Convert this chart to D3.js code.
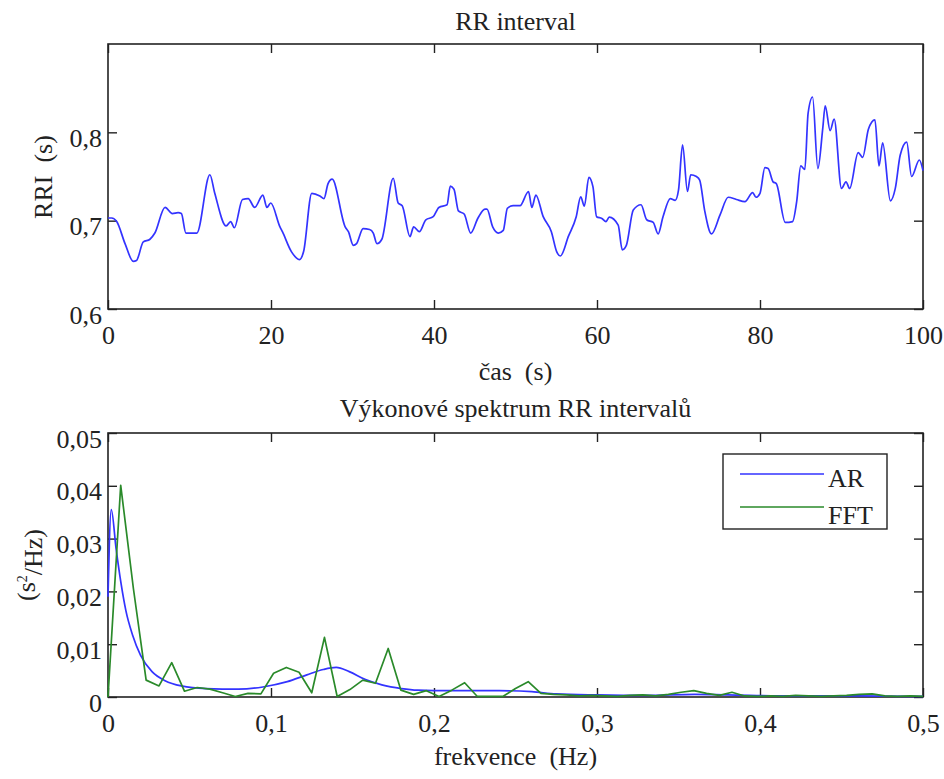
<!DOCTYPE html>
<html><head><meta charset="utf-8">
<script src="https://cdn.jsdelivr.net/npm/d3@7"></script>
<style>
html,body{margin:0;padding:0;background:#fff;}
text{font-family:"Liberation Serif","Times New Roman",serif;fill:#222;white-space:pre;}
</style></head>
<body>
<svg id="c" width="944" height="779"></svg>
<script>
// ---------- data ----------
const rrTime = [0, 0.45, 1.07, 2.09, 3.1, 3.5, 4.33, 5.15, 5.75, 7.0,
  7.9, 8.6, 9.0, 9.56, 10.9, 12.5, 13.1, 14.5, 15.05, 15.5,
  16.5, 17.2, 18.0, 19.0, 19.5, 19.96, 21.1, 21.4, 22.5, 23.5,
  24.0, 25.0, 26.0, 26.5, 27.0, 27.5, 29.1, 29.5, 30.1, 30.5,
  31.3, 32.1, 32.55, 33.0, 33.6, 35.0, 35.6, 36.1, 37.05, 37.5,
  38.2, 39.0, 39.9, 40.6, 41.6, 42.0, 42.45, 43.0, 43.7, 44.5,
  45.4, 46.25, 46.5, 47.2, 47.9, 48.5, 49.0, 49.7, 50.55, 51.6,
  52.0, 52.5, 53.4, 54.4, 55.05, 55.5, 56.5, 57.45, 58.0, 58.45,
  59.0, 59.5, 59.95, 60.6, 61.1, 61.5, 62.6, 63.1, 63.6, 64.45,
  65.4, 66.1, 66.9, 67.5, 68.1, 69.0, 69.6, 70.0, 70.5, 71.1,
  71.5, 72.2, 72.6, 73.2, 74.05, 75.1, 76.1, 77.1, 78.15, 79.1,
  79.5, 80.0, 80.6, 81.0, 81.6, 82.0, 83.1, 84.0, 84.5, 85.0,
  85.5, 85.9, 86.45, 87.1, 87.7, 88.0, 88.6, 89.1, 90.0, 90.55,
  91.0, 92.05, 92.6, 93.3, 94.1, 94.6, 95.05, 96.0, 96.6, 97.2,
  98.0, 98.6, 99.55, 100];
const rrValue = [0.703, 0.703, 0.699, 0.674, 0.654, 0.655, 0.676, 0.679, 0.686, 0.715,
  0.708, 0.709, 0.708, 0.686, 0.686, 0.752, 0.731, 0.694, 0.699, 0.692,
  0.724, 0.725, 0.715, 0.729, 0.715, 0.720, 0.693, 0.6875, 0.665, 0.656,
  0.665, 0.731, 0.728, 0.725, 0.742, 0.747, 0.693, 0.6875, 0.672, 0.674,
  0.691, 0.690, 0.686, 0.674, 0.679, 0.748, 0.720, 0.717, 0.682, 0.693,
  0.6875, 0.701, 0.7045, 0.715, 0.718, 0.739, 0.7355, 0.711, 0.7075, 0.686,
  0.703, 0.713, 0.713, 0.693, 0.686, 0.689, 0.714, 0.717, 0.717, 0.733,
  0.715, 0.729, 0.7045, 0.6875, 0.665, 0.660, 0.6825, 0.7045, 0.727, 0.7165,
  0.749, 0.7385, 0.7045, 0.7025, 0.699, 0.704, 0.695, 0.667, 0.672, 0.712,
  0.718, 0.701, 0.698, 0.685, 0.7045, 0.725, 0.723, 0.7345, 0.7857, 0.733,
  0.752, 0.750, 0.746, 0.712, 0.685, 0.7065, 0.7265, 0.724, 0.7215, 0.7317,
  0.7265, 0.731, 0.760, 0.759, 0.744, 0.742, 0.698, 0.699, 0.7215, 0.762,
  0.758, 0.8215, 0.840, 0.759, 0.8045, 0.830, 0.802, 0.815, 0.7365, 0.744,
  0.7365, 0.777, 0.7717, 0.8035, 0.814, 0.762, 0.788, 0.7225, 0.7365, 0.774,
  0.789, 0.750, 0.7687, 0.7567];

const fftFreq = [0, 0.0078, 0.0156, 0.0234, 0.0313, 0.0391, 0.0469, 0.0547, 0.0625, 0.0703,
  0.0781, 0.0859, 0.0938, 0.1016, 0.1094, 0.1172, 0.125, 0.1328, 0.1406, 0.1484,
  0.1563, 0.1641, 0.1719, 0.1797, 0.1875, 0.1953, 0.2031, 0.2109, 0.2188, 0.2266,
  0.2344, 0.2422, 0.25, 0.2578, 0.2656, 0.2734, 0.2813, 0.2891, 0.2969, 0.3047,
  0.3125, 0.3203, 0.3281, 0.3359, 0.3438, 0.3516, 0.3594, 0.3672, 0.375, 0.3828,
  0.3906, 0.3984, 0.4063, 0.4141, 0.4219, 0.4297, 0.4375, 0.4453, 0.4531, 0.4609,
  0.4688, 0.4766, 0.4844, 0.4922, 0.5];
const fftPower = [0, 0.0401, 0.0205, 0.0032, 0.0021, 0.0065, 0.0011, 0.0018, 0.0015, 0.0008,
  0.0001, 0.0007, 0.0006, 0.0045, 0.0056, 0.0047, 0.0008, 0.0113, 0.0001, 0.0014,
  0.0032, 0.0026, 0.0092, 0.0013, 0.0005, 0.0012, 0.0001, 0.0013, 0.0027, 0.0001,
  0.0001, 0.0001, 0.0016, 0.0029, 0.0007, 0.0005, 0.0004, 0.0002, 0.0003, 0.0002,
  0.0001, 0.0003, 0.0004, 0.0002, 0.0005, 0.0009, 0.0012, 0.0007, 0.0003, 0.0009,
  0.0002, 0.0001, 0.0002, 0.0001, 0.0003, 0.0002, 0.0001, 0.0002, 0.0003, 0.0005,
  0.0006, 0.0002, 0.0001, 0.0002, 0.0001];

const arFreq = [0, 0.002, 0.005, 0.008, 0.011, 0.015, 0.02, 0.027, 0.035, 0.045,
  0.06, 0.08, 0.095, 0.11, 0.122, 0.132, 0.14, 0.148, 0.158, 0.168,
  0.18, 0.19, 0.21, 0.24, 0.26, 0.275, 0.30, 0.33, 0.36, 0.38,
  0.42, 0.46, 0.5];
const arPower = [0.019, 0.0355, 0.028, 0.0215, 0.0163, 0.0118, 0.0079, 0.0048, 0.0031, 0.0021,
  0.0016, 0.0015, 0.0019, 0.0029, 0.0042, 0.0052, 0.0056, 0.0048, 0.0033, 0.0023,
  0.0016, 0.0013, 0.0012, 0.0012, 0.0010, 0.0006, 0.0004, 0.0003, 0.0005, 0.0004,
  0.0002, 0.0002, 0.0001];

const rrXTicks = [0, 20, 40, 60, 80, 100];
const rrYTicks = [0.6, 0.7, 0.8];
const rrXTickLabels = ["0", "20", "40", "60", "80", "100"];
const rrYTickLabels = ["0,6", "0,7", "0,8"];
const spXTicks = [0, 0.1, 0.2, 0.3, 0.4, 0.5];
const spYTicks = [0, 0.01, 0.02, 0.03, 0.04, 0.05];
const spXTickLabels = ["0", "0,1", "0,2", "0,3", "0,4", "0,5"];
const spYTickLabels = ["0", "0,01", "0,02", "0,03", "0,04", "0,05"];
const seriesNames = ["AR", "FFT"];

// ---------- drawing ----------
const svg = d3.select("#c");
const FS = 26;
const AX = "#222";
const BLUE = "#3333ff";
const GREEN = "#2a8a2a";
const L = 108, R = 923;

function panel(cfg) {
  const g = svg.append("g");
  const x = d3.scaleLinear().domain(cfg.xDomain).range([L, R]);
  const y = d3.scaleLinear().domain(cfg.yDomain).range([cfg.bottom, cfg.top]);
  const fx = d => cfg.xLabels[cfg.xTicks.indexOf(d)];
  const fy = d => cfg.yLabels[cfg.yTicks.indexOf(d)];
  const style = sel => {
    sel.select(".domain").remove();
    sel.selectAll(".tick line").attr("stroke", AX).attr("stroke-width", 1.4);
    sel.selectAll("text").style("font-size", FS + "px").attr("fill", AX);
  };
  g.append("g").attr("transform", `translate(0,${cfg.bottom})`)
    .call(d3.axisBottom(x).tickValues(cfg.xTicks).tickFormat(fx).tickSize(-9).tickSizeOuter(0).tickPadding(17))
    .call(style);
  g.append("g").attr("transform", `translate(0,${cfg.top})`)
    .call(d3.axisTop(x).tickValues(cfg.xTicks).tickFormat("").tickSize(-9).tickSizeOuter(0))
    .call(style);
  g.append("g").attr("transform", `translate(${L},0)`)
    .call(d3.axisLeft(y).tickValues(cfg.yTicks).tickFormat(fy).tickSize(-9).tickSizeOuter(0).tickPadding(6))
    .call(style)
    .selectAll("text").attr("dy", "0.54em");
  g.append("g").attr("transform", `translate(${R},0)`)
    .call(d3.axisRight(y).tickValues(cfg.yTicks).tickFormat("").tickSize(-9).tickSizeOuter(0))
    .call(style);
  g.append("rect").attr("x", L).attr("y", cfg.top).attr("width", R - L).attr("height", cfg.bottom - cfg.top)
    .attr("fill", "none").attr("stroke", AX).attr("stroke-width", 1.6);
  g.append("text").attr("x", (L + R) / 2).attr("y", cfg.titleY).attr("text-anchor", "middle")
    .style("font-size", FS + "px").text(cfg.title);
  g.append("text").attr("x", (L + R) / 2).attr("y", cfg.xLabelY).attr("text-anchor", "middle")
    .style("font-size", FS + "px").text(cfg.xLabel);
  return {g, x, y};
}

// top panel
const p1 = panel({xDomain: [0, 100], yDomain: [0.6, 0.9], top: 44, bottom: 309,
  xTicks: rrXTicks, yTicks: rrYTicks, xLabels: rrXTickLabels, yLabels: rrYTickLabels,
  title: "RR interval", titleY: 30, xLabel: "čas  (s)", xLabelY: 380});
svg.append("text").attr("transform", "translate(52,177) rotate(-90)").attr("text-anchor", "middle")
  .style("font-size", FS + "px").text("RRI  (s)");
const rrLine = d3.line().x(i => p1.x(rrTime[i])).y(i => p1.y(rrValue[i])).curve(d3.curveMonotoneX);
svg.append("path").attr("d", rrLine(d3.range(rrTime.length)))
  .attr("fill", "none").attr("stroke", BLUE).attr("stroke-width", 1.7).attr("stroke-linejoin", "round");

// bottom panel
const p2 = panel({xDomain: [0, 0.5], yDomain: [0, 0.05], top: 433, bottom: 697,
  xTicks: spXTicks, yTicks: spYTicks, xLabels: spXTickLabels, yLabels: spYTickLabels,
  title: "Výkonové spektrum RR intervalů", titleY: 417, xLabel: "frekvence  (Hz)", xLabelY: 765});
const yl = svg.append("text").attr("transform", "translate(35,565) rotate(-90)").attr("text-anchor", "middle")
  .style("font-size", FS + "px");
yl.append("tspan").text("(s");
yl.append("tspan").attr("dy", "-0.55em").style("font-size", "14px").text("2");
yl.append("tspan").attr("dy", "0.55em").text("/Hz)");

const arLine = d3.line().x(i => p2.x(arFreq[i])).y(i => p2.y(arPower[i])).curve(d3.curveMonotoneX);
svg.append("path").attr("d", arLine(d3.range(arFreq.length)))
  .attr("fill", "none").attr("stroke", BLUE).attr("stroke-width", 1.7);
const fftLine = d3.line().x(i => p2.x(fftFreq[i])).y(i => p2.y(fftPower[i]));
svg.append("path").attr("d", fftLine(d3.range(fftFreq.length)))
  .attr("fill", "none").attr("stroke", GREEN).attr("stroke-width", 1.7).attr("stroke-linejoin", "round");

// legend
const lg = svg.append("g");
lg.append("rect").attr("x", 723).attr("y", 454).attr("width", 164).attr("height", 75)
  .attr("fill", "#fff").attr("stroke", AX).attr("stroke-width", 1.4);
const legColors = [BLUE, GREEN];
const legY = [474, 507];
const legTextY = [487, 524];
seriesNames.forEach((n, i) => {
  lg.append("line").attr("x1", 740).attr("x2", 824).attr("y1", legY[i]).attr("y2", legY[i])
    .attr("stroke", legColors[i]).attr("stroke-width", 1.7);
  lg.append("text").attr("x", 828).attr("y", legTextY[i]).style("font-size", FS + "px").text(n);
});
</script>
</body></html>
